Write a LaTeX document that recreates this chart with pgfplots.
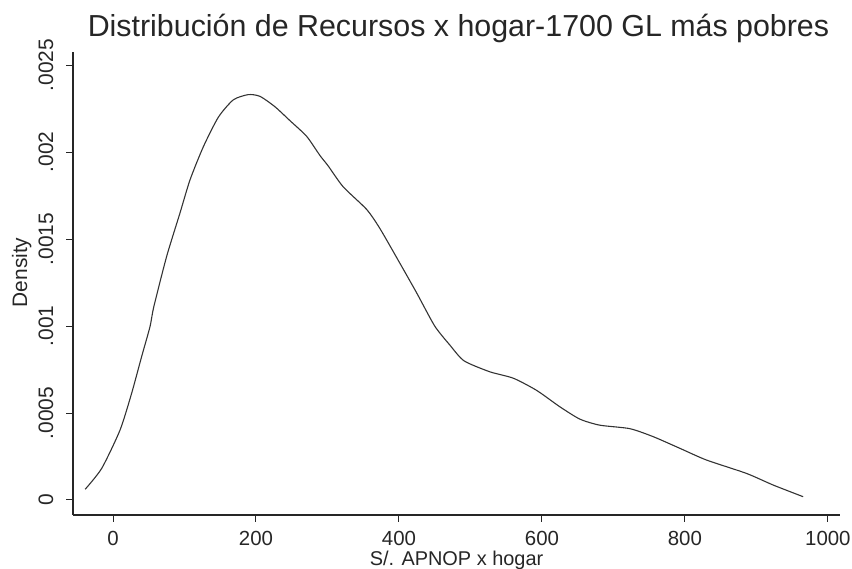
\documentclass[border=0pt]{standalone}
\usepackage{fontspec}
\setmainfont{Liberation Sans}
\usepackage{pgfplots}
\pgfplotsset{compat=1.18}
\begin{document}
\begin{tikzpicture}[x=1bp,y=1bp]
\path[use as bounding box] (0,0) rectangle (852,569);
\begin{axis}[
  at={(73bp,54bp)}, anchor=south west,
  width=767bp, height=463bp, scale only axis,
  xmin=-56, xmax=1017, ymin=-0.0000862, ymax=0.002575,
  axis lines*=left,
  axis line style={line width=1.1bp, black!85},
  every tick/.style={line width=1bp, black!85},
  tick align=outside, major tick length=7bp,
  xtick={0,200,400,600,800,1000},
  xticklabels={0,200,400,600,800,1000},
  ytick={0,0.0005,0.001,0.0015,0.002,0.0025},
  yticklabels={0,.0005,.001,.0015,.002,.0025},
  scaled y ticks=false, scaled x ticks=false,
  ticklabel style={font=\fontsize{21}{24}\selectfont, text=black!85},
  xticklabel style={font=\fontsize{20.5}{23}\selectfont, anchor=north, inner sep=0pt},
  xticklabel shift=9.5bp,
  yticklabel style={rotate=90, anchor=base, inner sep=0pt},
  yticklabel shift=13bp,
  xlabel={S/. APNOP x hogar},
  ylabel={Density},
  label style={font=\fontsize{21}{24}\selectfont, text=black!85, inner sep=0pt},
  xlabel style={font=\fontsize{20}{23}\selectfont, at={(axis description cs:0.5,-0.108)}, anchor=base},
  ylabel style={at={(axis description cs:-0.05997,0.5238)}, anchor=base},
]
\addplot[black!80, line width=1.1bp, line join=round, smooth, tension=0.4] coordinates {
(-39,0.0000615) (-15.8,0.000182) (9.8,0.000402) (26,0.000613) (40,0.000824)
(51.7,0.000996) (57,0.00111) (75,0.0014) (93.7,0.00165) (107.7,0.00184)
(126.3,0.00203) (147.3,0.0022) (168.3,0.0023) (189.3,0.00233) (205.6,0.00232)
(226.6,0.00226) (247.6,0.00218) (270.9,0.00209) (289.5,0.00198) (301,0.00192)
(322,0.0018) (354.8,0.00167) (373.4,0.00156) (401.4,0.00136) (424.8,0.00119)
(450,0.001) (471.3,0.00089) (491,0.0008) (527,0.000737) (560,0.0007)
(592.6,0.00063) (625,0.000536) (653,0.000465) (681,0.00043) (723,0.00041)
(755.7,0.000364) (793,0.000297) (830,0.00023) (886,0.000153) (923.5,0.000086)
(965.4,0.000019)
};
\end{axis}
\node[anchor=base, font=\fontsize{30.5}{35}\selectfont, text=black!85, inner sep=0pt] at (458.5,532) {Distribución de Recursos x hogar-1700 GL más pobres};
\end{tikzpicture}
\end{document}
